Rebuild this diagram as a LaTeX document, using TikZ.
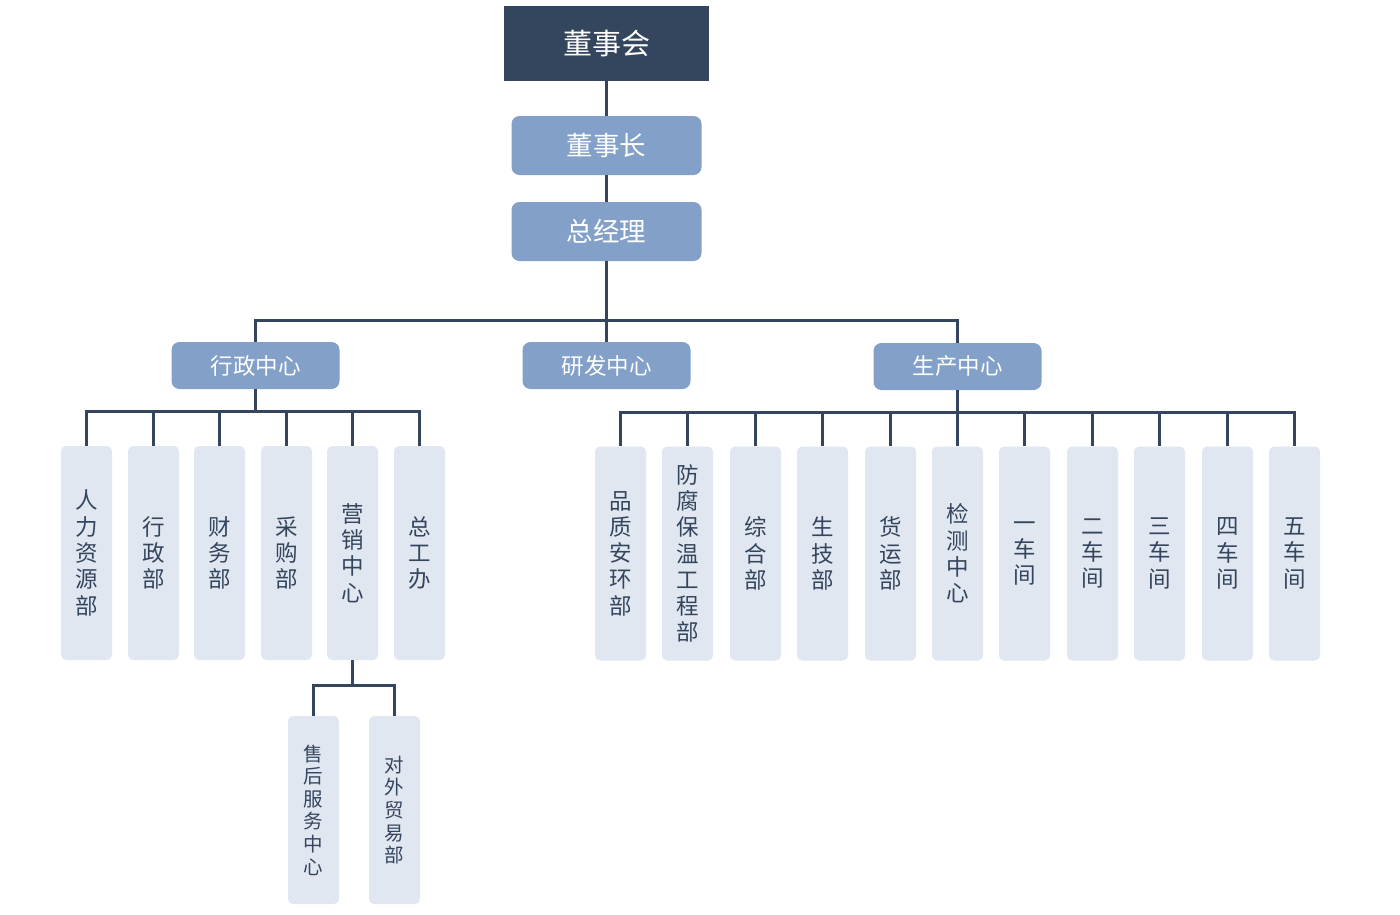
\documentclass[tikz,border=0pt]{standalone}
\usepackage{fontspec}
\setmainfont{Noto Sans CJK SC}
\definecolor{dark}{RGB}{52,69,94}
\definecolor{mid}{RGB}{130,160,200}
\definecolor{light}{RGB}{225,231,240}
\begin{document}
\begin{tikzpicture}[x=1pt,y=-1pt,
  topbox/.style={fill=dark,text=white,minimum width=205pt,minimum height=75pt,inner sep=0pt,font=\fontsize{29}{32}\selectfont},
  lvlbox/.style={fill=mid,text=white,rounded corners=8pt,minimum width=190pt,minimum height=59pt,inner sep=0pt,font=\fontsize{26.5}{30}\selectfont},
  ctrbox/.style={fill=mid,text=white,rounded corners=8pt,minimum width=168pt,minimum height=47pt,inner sep=0pt,font=\fontsize{22.5}{26}\selectfont},
  deptbox/.style={fill=light,text=dark,rounded corners=5pt,minimum width=51pt,minimum height=214pt,inner sep=0pt,align=center,font=\fontsize{22.5}{26.3}\selectfont},
  subbox/.style={fill=light,text=dark,rounded corners=5pt,minimum width=51pt,minimum height=188pt,inner sep=0pt,align=center,font=\fontsize{19.5}{22.6}\selectfont},
  conn/.style={draw=dark,line width=3pt}]
\useasboundingbox (0,0) rectangle (1400,914);
\node[topbox] (dsh) at (606.5,43.5) {董事会};
\node[lvlbox] (dsz) at (606.5,145.5) {董事长};
\node[lvlbox] (zjl) at (606.5,231.5) {总经理};
\node[ctrbox] (xz) at (255.5,365.5) {行政中心};
\node[ctrbox] (yf) at (606.5,365.5) {研发中心};
\node[ctrbox] (sc) at (957.5,366.5) {生产中心};
\coordinate (b1) at (606.5,320);
\coordinate (b2) at (255.5,411);
\coordinate (b3) at (957.5,412);
\coordinate (b4) at (352.5,685);
% left departments
\node[deptbox] (l1) at (86.5,553) {人\\力\\资\\源\\部};
\node[deptbox] (l2) at (153.5,553) {行\\政\\部};
\node[deptbox] (l3) at (219.5,553) {财\\务\\部};
\node[deptbox] (l4) at (286.5,553) {采\\购\\部};
\node[deptbox] (l5) at (352.5,553) {营\\销\\中\\心};
\node[deptbox] (l6) at (419.5,553) {总\\工\\办};
% marketing sub
\node[subbox] (m1) at (313.5,810) {售\\后\\服\\务\\中\\心};
\node[subbox] (m2) at (394.5,810) {对\\外\\贸\\易\\部};
% right departments
\node[deptbox] (r1) at (620.5,553.5) {品\\质\\安\\环\\部};
\node[deptbox] (r2) at (687.5,553.5) {防\\腐\\保\\温\\工\\程\\部};
\node[deptbox] (r3) at (755.5,553.5) {综\\合\\部};
\node[deptbox] (r4) at (822.5,553.5) {生\\技\\部};
\node[deptbox] (r5) at (890.5,553.5) {货\\运\\部};
\node[deptbox] (r6) at (957.5,553.5) {检\\测\\中\\心};
\node[deptbox] (r7) at (1024.5,553.5) {一\\车\\间};
\node[deptbox] (r8) at (1092.5,553.5) {二\\车\\间};
\node[deptbox] (r9) at (1159.5,553.5) {三\\车\\间};
\node[deptbox] (r10) at (1227.5,553.5) {四\\车\\间};
\node[deptbox] (r11) at (1294.5,553.5) {五\\车\\间};
% connectors
\draw[conn] (dsh.south) -- (dsz.north);
\draw[conn] (dsz.south) -- (zjl.north);
\draw[conn] (zjl.south) -- (b1);
\draw[conn] (xz.north) |- (b1) -| (sc.north);
\draw[conn] (b1) -- (yf.north);
\draw[conn] (xz.south) -- (b2);
\draw[conn] (l1.north) |- (b2) -| (l6.north);
\foreach \n in {l2,l3,l4,l5} \draw[conn] (\n.north) -- (\n.north |- b2);
\draw[conn] (sc.south) -- (b3);
\draw[conn] (r1.north) |- (b3) -| (r11.north);
\foreach \n in {r2,r3,r4,r5,r6,r7,r8,r9,r10} \draw[conn] (\n.north) -- (\n.north |- b3);
\draw[conn] (l5.south) -- (b4);
\draw[conn] (m1.north) |- (b4) -| (m2.north);
\end{tikzpicture}
\end{document}
